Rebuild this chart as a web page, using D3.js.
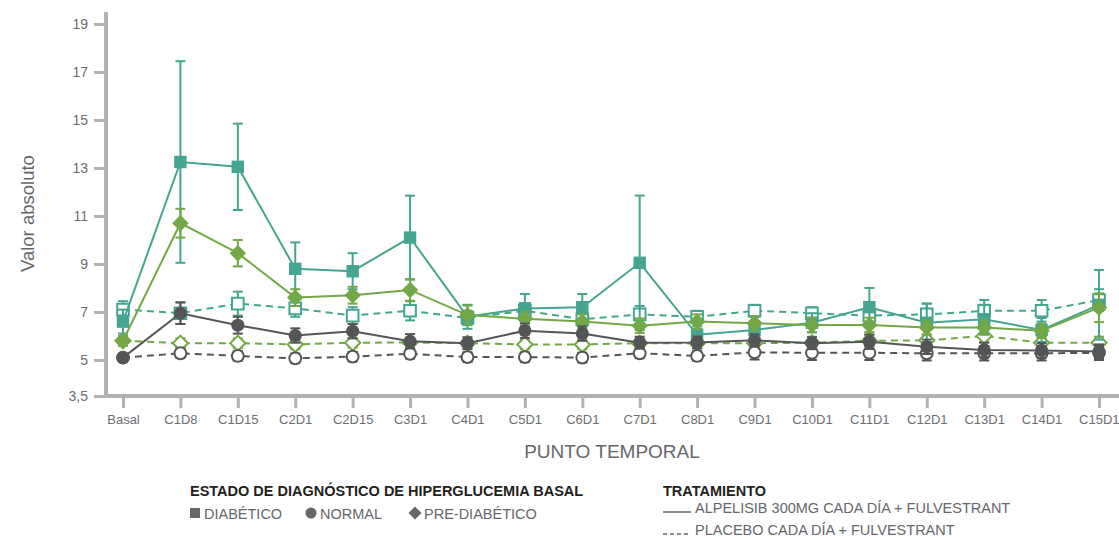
<!DOCTYPE html>
<html>
<head>
<meta charset="utf-8">
<script src="https://cdn.jsdelivr.net/npm/d3@7"></script>
<style>
  body { margin: 0; background: #fff; }
  svg { display: block; }
  .tick text { fill: #6d6e71; }
</style>
</head>
<body>
<div id="chart"></div>
<script>
// --- data ---
const timepoints = ["Basal", "C1D8", "C1D15", "C2D1", "C2D15", "C3D1", "C4D1", "C5D1", "C6D1",
    "C7D1", "C8D1", "C9D1", "C10D1", "C11D1", "C12D1", "C13D1", "C14D1", "C15D1"];
const yTicks = [3.5, 5, 7, 9, 11, 13, 15, 17, 19];

// diabetic
const diabAlpMean = [6.6, 13.25, 13.05, 8.8, 8.7, 10.1, 6.8, 7.15, 7.2, 9.05, 6.05, 6.25, 6.55, 7.2, 6.55, 6.7, 6.25, 7.3];
const diabAlpErr  = [0.5, 4.2, 1.8, 1.1, 0.75, 1.75, 0.5, 0.6, 0.55, 2.8, 0.35, 0.35, 0.4, 0.8, 0.8, 0.6, 0.5, 1.45];
const diabPlaMean = [7.1, 6.95, 7.35, 7.15, 6.85, 7.05, 6.75, 7.05, 6.7, 6.9, 6.8, 7.05, 6.95, 6.85, 6.9, 7.05, 7.05, 7.5];
const diabPlaErr  = [0.35, 0.45, 0.5, 0.35, 0.35, 0.4, 0.3, 0.3, 0.35, 0.35, 0.25, 0.25, 0.25, 0.3, 0.45, 0.45, 0.45, 0.45];
// pre-diabetic
const preAlpMean = [5.8, 10.7, 9.45, 7.6, 7.7, 7.92, 6.87, 6.72, 6.6, 6.43, 6.6, 6.53, 6.46, 6.46, 6.35, 6.35, 6.22, 7.18];
const preAlpErr  = [0.2, 0.6, 0.55, 0.35, 0.35, 0.45, 0.4, 0.3, 0.3, 0.3, 0.3, 0.3, 0.3, 0.3, 0.3, 0.3, 0.3, 0.6];
const prePlaMean = [5.8, 5.7, 5.7, 5.65, 5.72, 5.73, 5.7, 5.65, 5.65, 5.7, 5.7, 5.7, 5.72, 5.8, 5.82, 6.0, 5.72, 5.72];
const prePlaErr  = [0.2, 0.2, 0.2, 0.2, 0.2, 0.2, 0.2, 0.2, 0.2, 0.2, 0.2, 0.2, 0.25, 0.25, 0.25, 0.25, 0.25, 0.25];
// normal
const normAlpMean = [5.1, 6.95, 6.45, 6.02, 6.2, 5.78, 5.7, 6.22, 6.1, 5.72, 5.73, 5.82, 5.7, 5.76, 5.55, 5.42, 5.4, 5.35];
const normAlpErr  = [0.15, 0.45, 0.35, 0.3, 0.3, 0.3, 0.25, 0.3, 0.3, 0.25, 0.25, 0.25, 0.25, 0.3, 0.3, 0.3, 0.3, 0.3];
const normPlaMean = [5.1, 5.28, 5.17, 5.07, 5.14, 5.26, 5.12, 5.12, 5.1, 5.28, 5.17, 5.32, 5.3, 5.3, 5.28, 5.28, 5.28, 5.3];
const normPlaErr  = [0.15, 0.2, 0.2, 0.2, 0.2, 0.2, 0.2, 0.2, 0.2, 0.2, 0.2, 0.3, 0.3, 0.3, 0.3, 0.3, 0.3, 0.3];

const teal = "#45a590", green = "#72a846", dark = "#545557", axisGrey = "#b2b2b5", textGrey = "#66676a";

// series table built from the arrays above
const series = [
    { mean: diabPlaMean, err: diabPlaErr, color: teal,  shape: "square",  open: true },
    { mean: prePlaMean,  err: prePlaErr,  color: green, shape: "diamond", open: true },
    { mean: normPlaMean, err: normPlaErr, color: dark,  shape: "circle",  open: true },
    { mean: diabAlpMean, err: diabAlpErr, color: teal,  shape: "square",  open: false },
    { mean: preAlpMean,  err: preAlpErr,  color: green, shape: "diamond", open: false },
    { mean: normAlpMean, err: normAlpErr, color: dark,  shape: "circle",  open: false }
];

const width = 1119, height = 538;
const svg = d3.select("#chart").append("svg")
    .attr("width", width)
    .attr("height", height)
    .style("font-family", "'Liberation Sans', Arial, sans-serif");

const x = d3.scalePoint().domain(timepoints).range([123, 1099]);
const y = d3.scaleLinear().domain([3.5, 19.5]).range([396, 12]);
const axisX0 = 106;

// axes
const yAxis = svg.append("g")
    .attr("transform", `translate(${axisX0},0)`)
    .call(d3.axisLeft(y).tickValues(yTicks).tickSize(12).tickPadding(6)
        .tickFormat(d => String(d).replace(".", ",")));
yAxis.select(".domain").remove();
yAxis.selectAll(".tick line").attr("stroke", axisGrey).attr("stroke-width", 3);
yAxis.selectAll(".tick text").attr("font-size", 14).attr("font-family", "'Liberation Sans', Arial, sans-serif");

const xAxis = svg.append("g")
    .attr("transform", `translate(0,${y(3.5)})`)
    .call(d3.axisBottom(x).tickSize(12).tickPadding(7));
xAxis.select(".domain").remove();
xAxis.selectAll(".tick line").attr("stroke", axisGrey).attr("stroke-width", 3);
xAxis.selectAll(".tick text").attr("font-size", 13)
    .attr("font-family", "'Liberation Sans', Arial, sans-serif");
// keep the last label inside the picture
xAxis.selectAll(".tick text").filter(d => d === timepoints[timepoints.length - 1])
    .attr("text-anchor", "end").attr("dx", 20);

svg.append("line")
    .attr("x1", axisX0).attr("x2", axisX0)
    .attr("y1", y(19.5)).attr("y2", y(3.5) + 2)
    .attr("stroke", axisGrey).attr("stroke-width", 4);
svg.append("line")
    .attr("x1", axisX0 - 2).attr("x2", width)
    .attr("y1", y(3.5)).attr("y2", y(3.5))
    .attr("stroke", axisGrey).attr("stroke-width", 4);

// axis titles
svg.append("text")
    .attr("transform", `translate(34,${y(11.1)}) rotate(-90)`)
    .attr("text-anchor", "middle")
    .attr("fill", textGrey)
    .attr("font-size", 18.5)
    .text("Valor absoluto");

svg.append("text")
    .attr("x", 612).attr("y", 458)
    .attr("text-anchor", "middle")
    .attr("fill", textGrey)
    .attr("font-size", 19)
    .text("PUNTO TEMPORAL");

// marks
const sq = d3.symbol().type(d3.symbolSquare);
const markerPath = (shape, open) => {
    if (shape === "square") return sq.size(open ? 135 : 155)();
    if (shape === "diamond") return sq.size(open ? 115 : 135)();
    return d3.symbol().type(d3.symbolCircle).size(open ? 110 : 135)();
};

const line = d3.line().x(d => x(d.t)).y(d => y(d.v));

series.forEach(s => {
    const pts = timepoints.map((t, i) => ({ t: t, v: s.mean[i], e: s.err[i] }));
    const g = svg.append("g");

    // error bars
    const eb = g.selectAll(".eb").data(pts).enter().append("g");
    eb.append("line")
        .attr("x1", d => x(d.t)).attr("x2", d => x(d.t))
        .attr("y1", d => y(d.v - d.e)).attr("y2", d => y(d.v + d.e))
        .attr("stroke", s.color).attr("stroke-width", 2);
    [1, -1].forEach(sign => {
        eb.append("line")
            .attr("x1", d => x(d.t) - 5).attr("x2", d => x(d.t) + 5)
            .attr("y1", d => y(d.v + sign * d.e)).attr("y2", d => y(d.v + sign * d.e))
            .attr("stroke", s.color).attr("stroke-width", 2);
    });

    g.append("path")
        .datum(pts)
        .attr("d", line)
        .attr("fill", "none")
        .attr("stroke", s.color)
        .attr("stroke-width", 2)
        .attr("stroke-dasharray", s.open ? "7,5" : null);

    g.selectAll(".pt").data(pts).enter().append("path")
        .attr("transform", d => `translate(${x(d.t)},${y(d.v)})` + (s.shape === "diamond" ? " rotate(45)" : ""))
        .attr("d", markerPath(s.shape, s.open))
        .attr("fill", s.open ? "#fff" : s.color)
        .attr("stroke", s.color)
        .attr("stroke-width", s.open ? 2 : 0);
});

// legend
const leg = svg.append("g");
leg.append("text").attr("x", 190).attr("y", 496)
    .attr("font-size", 14.5).attr("font-weight", "bold").attr("fill", "#231f20")
    .text("ESTADO DE DIAGNÓSTICO DE HIPERGLUCEMIA BASAL");
const statusItems = [
    { label: "DIABÉTICO", shape: "square", x: 195 },
    { label: "NORMAL", shape: "circle", x: 311 },
    { label: "PRE-DIABÉTICO", shape: "diamond", x: 415 }
];
statusItems.forEach(it => {
    leg.append("path")
        .attr("transform", `translate(${it.x},513)` + (it.shape === "diamond" ? " rotate(45)" : ""))
        .attr("d", it.shape === "circle" ? d3.symbol().type(d3.symbolCircle).size(95)()
            : sq.size(it.shape === "diamond" ? 85 : 100)())
        .attr("fill", textGrey);
    leg.append("text").attr("x", it.x + 9).attr("y", 518.5)
        .attr("font-size", 14.5).attr("fill", textGrey).text(it.label);
});

leg.append("text").attr("x", 663).attr("y", 496)
    .attr("font-size", 14.5).attr("font-weight", "bold").attr("fill", "#231f20")
    .text("TRATAMIENTO");
const treatItems = [
    { label: "ALPELISIB 300MG CADA DÍA + FULVESTRANT", dash: null, y: 513 },
    { label: "PLACEBO CADA DÍA + FULVESTRANT", dash: "4,3", y: 535 }
];
treatItems.forEach(it => {
    leg.append("line")
        .attr("x1", 663).attr("x2", 691)
        .attr("y1", it.y - 1).attr("y2", it.y - 1)
        .attr("stroke", textGrey).attr("stroke-width", 1.5)
        .attr("stroke-dasharray", it.dash);
    leg.append("text").attr("x", 695).attr("y", it.y)
        .attr("font-size", 14.5).attr("fill", textGrey).text(it.label);
});
</script>
</body>
</html>
